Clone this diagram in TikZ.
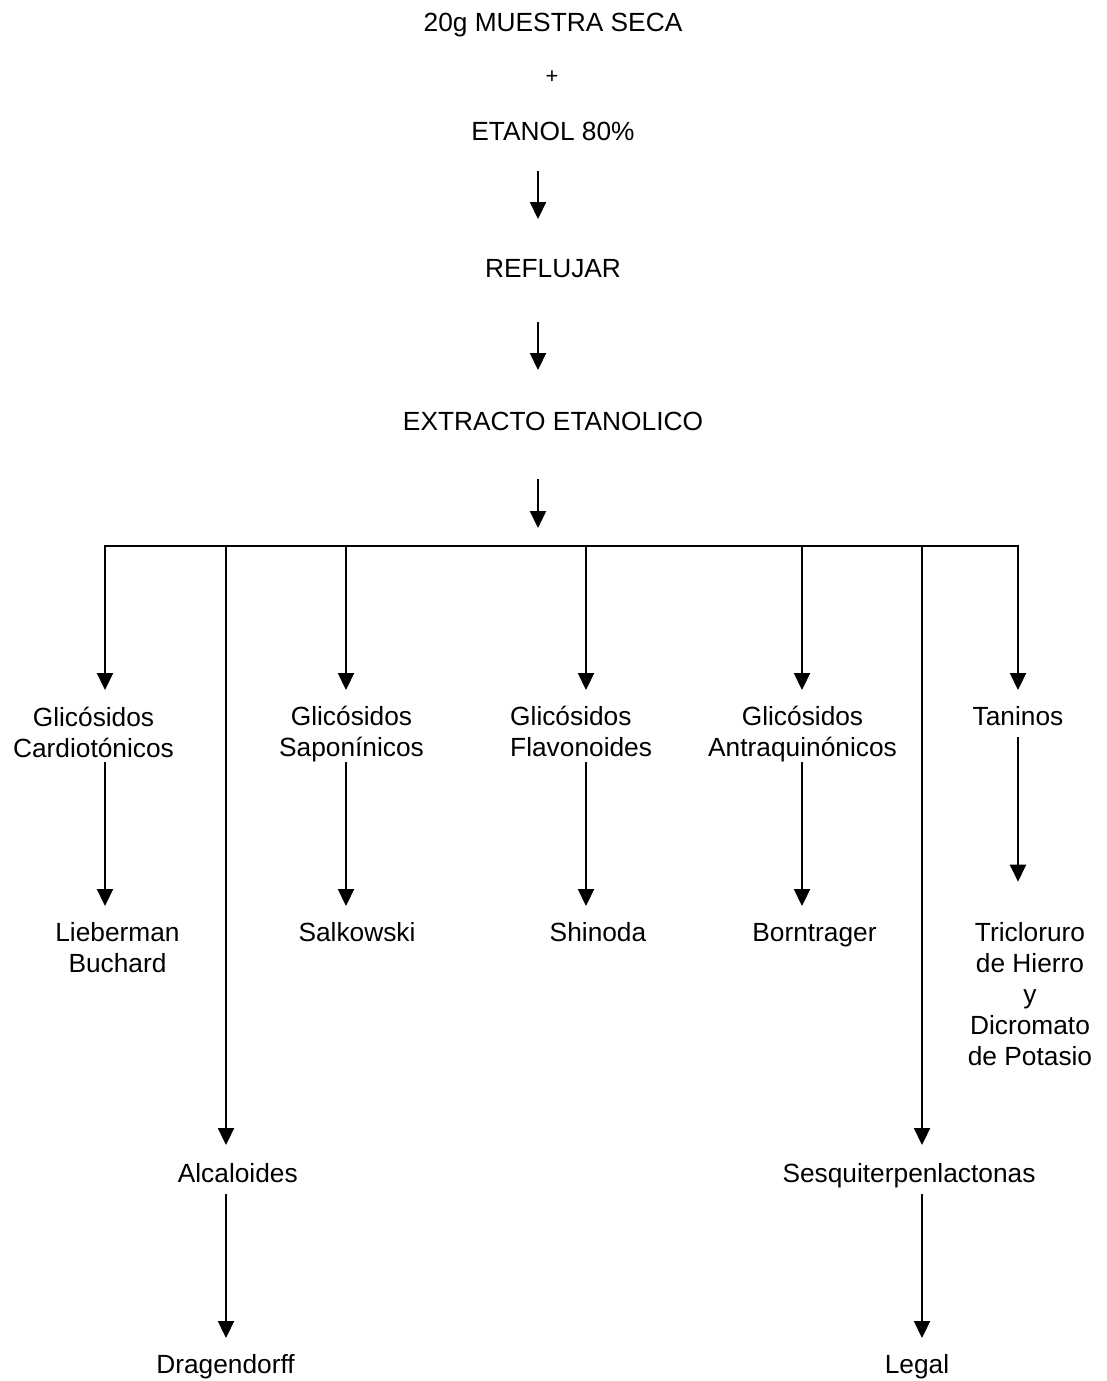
\documentclass[tikz,border=0pt]{standalone}
\usepackage{fontspec}
\setmainfont{Liberation Sans}
\usetikzlibrary{arrows.meta}
\begin{document}
\begin{tikzpicture}[x=1pt,y=-1pt,
  lbl/.style={inner sep=0pt,anchor=base,align=center,font=\fontsize{26.3}{31}\selectfont},
  arr/.style={line width=2.2pt,-{Triangle[length=17pt,width=16pt]}},
  ln/.style={line width=2.2pt,line cap=rect}]
\useasboundingbox (0,0) rectangle (1106,1381);
% top sequence
\node[lbl] (muestra) at (553,32) {20g MUESTRA SECA};
\node[lbl,font=\fontsize{22}{26}\selectfont,anchor=center] (plus) at (552,77) {+};
\node[lbl] (etanol) at (553,140) {ETANOL 80\%};
\node[lbl] (reflujar) at (553,277) {REFLUJAR};
\node[lbl] (extracto) at (553,430) {EXTRACTO ETANOLICO};
% branch points
\coordinate (trunk) at (538,546);
\coordinate (b1) at (105,546);
\coordinate (b2) at (226,546);
\coordinate (b3) at (346,546);
\coordinate (b4) at (586,546);
\coordinate (b5) at (802,546);
\coordinate (b6) at (922,546);
\coordinate (b7) at (1018,546);
% second level labels (base = last line)
\node[lbl] (cardio) at (93.5,757) {Glicósidos\\Cardiotónicos};
\node[lbl] (sapon) at (351.5,756) {Glicósidos\\Saponínicos};
\node[lbl,anchor=base west,align=left] (flavo) at (510,756) {Glicósidos\\Flavonoides};
\node[lbl] (antra) at (802.5,756) {Glicósidos\\Antraquinónicos};
\node[lbl] (taninos) at (1018,725) {Taninos};
% tests
\node[lbl] (lieb) at (117.5,972) {Lieberman\\Buchard};
\node[lbl] (salk) at (357,941.7) {Salkowski};
\node[lbl] (shin) at (598,941.7) {Shinoda};
\node[lbl] (born) at (814.5,941.7) {Borntrager};
\node[lbl] (tricl) at (1030,1065.7) {Tricloruro\\de Hierro\\y\\Dicromato\\de Potasio};
\node[lbl] (alca) at (237.8,1182.7) {Alcaloides};
\node[lbl] (sesq) at (909,1182.7) {Sesquiterpenlactonas};
\node[lbl] (drag) at (225.5,1373) {Dragendorff};
\node[lbl] (legal) at (917,1373) {Legal};
% main arrows
\draw[arr] ([yshift=-31pt]etanol.base -| trunk) -- ([yshift=58pt]reflujar.base -| trunk);
\draw[arr] ([yshift=-45pt]reflujar.base -| trunk) -- ([yshift=60pt]extracto.base -| trunk);
\draw[arr] ([yshift=-49pt]extracto.base -| trunk) -- ([yshift=18pt]trunk);
% horizontal distributor
\draw[ln] (b1) -- (b7);
% branch arrows
\draw[arr] (b1) -- ([yshift=67pt]cardio.base -| b1);
\draw[arr] (b3) -- ([yshift=66pt]sapon.base -| b3);
\draw[arr] (b4) -- ([yshift=66pt]flavo.base -| b4);
\draw[arr] (b5) -- ([yshift=66pt]antra.base -| b5);
\draw[arr] (b7) -- ([yshift=35pt]taninos.base -| b7);
\draw[arr] (b2) -- ([yshift=37.7pt]alca.base -| b2);
\draw[arr] (b6) -- ([yshift=37.7pt]sesq.base -| b6);
% test arrows
\draw[arr] ([yshift=-5pt]cardio.base -| b1) -- ([yshift=66pt]lieb.base -| b1);
\draw[arr] ([yshift=-6pt]sapon.base -| b3) -- ([yshift=35.7pt]salk.base -| b3);
\draw[arr] ([yshift=-6pt]flavo.base -| b4) -- ([yshift=35.7pt]shin.base -| b4);
\draw[arr] ([yshift=-6pt]antra.base -| b5) -- ([yshift=35.7pt]born.base -| b5);
\draw[arr] ([yshift=-12pt]taninos.base -| b7) -- ([yshift=184pt]tricl.base -| b7);
\draw[arr] ([yshift=-11.3pt]alca.base -| b2) -- ([yshift=35pt]drag.base -| b2);
\draw[arr] ([yshift=-11.3pt]sesq.base -| b6) -- ([yshift=35pt]legal.base -| b6);
\end{tikzpicture}
\end{document}
